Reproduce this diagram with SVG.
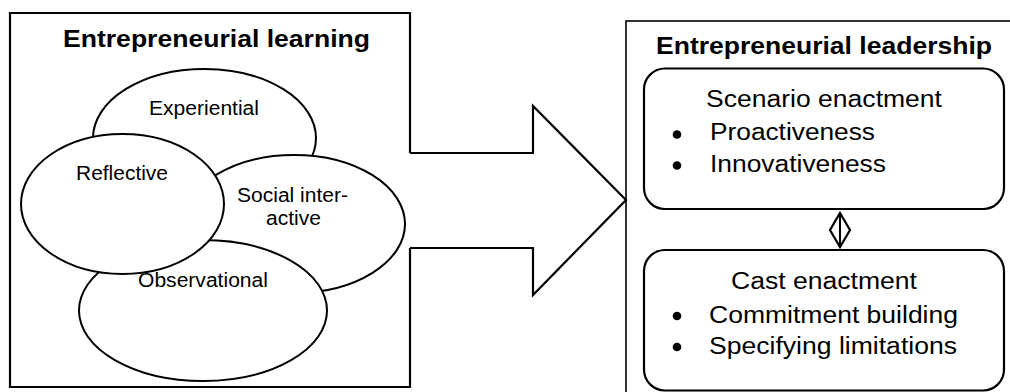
<svg xmlns="http://www.w3.org/2000/svg" width="1010" height="392" viewBox="0 0 1010 392">
  <style>
    .frame { fill: none; stroke: #000; stroke-width: 2.2; }
    .oval { fill: #fff; stroke: #000; stroke-width: 2; }
    .card { fill: #fff; stroke: #000; stroke-width: 2.2; }
    .title { font-family: "Liberation Sans", Arial, sans-serif; font-weight: bold; font-size: 23px; fill: #000; }
    .lbl { font-family: "Liberation Sans", Arial, sans-serif; font-size: 19.5px; fill: #000; text-anchor: middle; }
    .item { font-family: "Liberation Sans", Arial, sans-serif; font-size: 23px; fill: #000; }
    .dot { fill: #000; }
  </style>
  <rect width="1010" height="392" fill="#fff"/>

  <!-- Learning panel: frame with an opening for the arrow shaft -->
  <g id="learning">
    <path class="frame" d="M410,153 V13 H10 V387 H410 V248"/>
    <text class="title" x="63" y="47" textLength="307" lengthAdjust="spacingAndGlyphs">Entrepreneurial learning</text>
  </g>

  <g id="experiential">
    <ellipse class="oval" cx="204.5" cy="138" rx="111.5" ry="69"/>
  </g>
  <g id="social">
    <ellipse class="oval" cx="294" cy="224" rx="111" ry="69"/>
  </g>
  <g id="observational">
    <ellipse class="oval" cx="203" cy="310.5" rx="124" ry="70.5"/>
  </g>
  <g id="reflective">
    <ellipse class="oval" cx="122.5" cy="204" rx="101.5" ry="70"/>
  </g>

  <!-- Ellipse labels sit above all the outlines -->
  <g id="oval-labels">
    <text class="lbl" x="204" y="115" textLength="110" lengthAdjust="spacingAndGlyphs">Experiential</text>
    <text class="lbl" x="122" y="180" textLength="92" lengthAdjust="spacingAndGlyphs">Reflective</text>
    <text class="lbl" x="292.5" y="202" textLength="111" lengthAdjust="spacingAndGlyphs">Social inter-</text>
    <text class="lbl" x="293.5" y="225" textLength="55" lengthAdjust="spacingAndGlyphs">active</text>
    <text class="lbl" x="203" y="287" textLength="130" lengthAdjust="spacingAndGlyphs">Observational</text>
  </g>

  <!-- Connectors: block arrow between panels, diamond link between cards -->
  <g id="connectors">
    <polyline class="frame" points="410,153 533,153 533,106 626,200 533,295 533,248 410,248"/>
    <line x1="840" y1="213" x2="840" y2="247" stroke="#000" stroke-width="2"/>
    <polygon points="840,213 850,230 840,247 830,230" fill="none" stroke="#000" stroke-width="2.2"/>
  </g>

  <!-- Leadership panel (runs off the right and bottom edges) -->
  <g id="leadership">
    <rect x="626" y="21" width="420" height="420" fill="none" stroke="#000" stroke-width="1.6"/>
    <text class="title" x="656" y="54" textLength="336" lengthAdjust="spacingAndGlyphs">Entrepreneurial leadership</text>
  </g>

  <g id="scenario">
    <rect class="card" x="644" y="68.5" width="360" height="140.5" rx="21" ry="21"/>
    <text class="item" x="706" y="107" textLength="236" lengthAdjust="spacingAndGlyphs">Scenario enactment</text>
    <circle class="dot" cx="677" cy="134.5" r="4.3"/>
    <text class="item" x="710" y="140" textLength="165" lengthAdjust="spacingAndGlyphs">Proactiveness</text>
    <circle class="dot" cx="677" cy="165.5" r="4.3"/>
    <text class="item" x="710" y="171.5" textLength="176" lengthAdjust="spacingAndGlyphs">Innovativeness</text>
  </g>

  <g id="cast">
    <rect class="card" x="644" y="250" width="360" height="140.5" rx="21" ry="21"/>
    <text class="item" x="731" y="288.5" textLength="186" lengthAdjust="spacingAndGlyphs">Cast enactment</text>
    <circle class="dot" cx="677" cy="316" r="4.3"/>
    <text class="item" x="709" y="322.5" textLength="249" lengthAdjust="spacingAndGlyphs">Commitment building</text>
    <circle class="dot" cx="677" cy="347" r="4.3"/>
    <text class="item" x="709" y="353.5" textLength="248" lengthAdjust="spacingAndGlyphs">Specifying limitations</text>
  </g>
</svg>
